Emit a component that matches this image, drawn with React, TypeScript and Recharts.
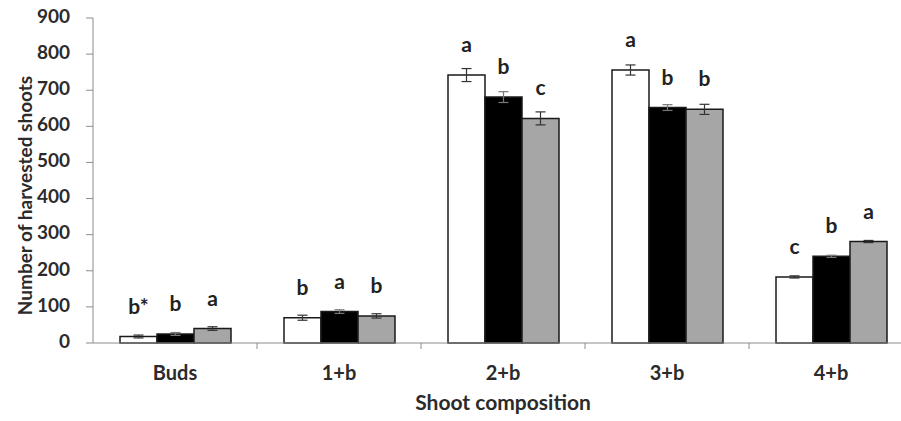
import React from 'react';
import { BarChart, Bar, XAxis, YAxis, ErrorBar, LabelList } from 'recharts';

const categories = ['Buds', '1+b', '2+b', '3+b', '4+b'];

// three treatments: white, black, grey bars
const whiteValues = [18, 70, 742, 756, 183];
const blackValues = [25, 87, 681, 652, 240];
const grayValues = [40, 75, 622, 647, 281];

const whiteErrors = [4, 7, 18, 14, 3];
const blackErrors = [4, 5, 15, 8, 3];
const grayErrors = [5, 6, 18, 14, 3];

const whiteLetters = ['b*', 'b', 'a', 'a', 'c'];
const blackLetters = ['b', 'a', 'b', 'b', 'b'];
const grayLetters = ['a', 'b', 'c', 'b', 'a'];

const yTicks = [0, 100, 200, 300, 400, 500, 600, 700, 800, 900];

const FONT = 'Lato, "Liberation Sans", sans-serif';
const AXIS_GREY = '#8c8c8c';

const data = categories.map((name, i) => ({
  name,
  white: whiteValues[i],
  black: blackValues[i],
  gray: grayValues[i],
  whiteErr: whiteErrors[i],
  blackErr: blackErrors[i],
  grayErr: grayErrors[i],
  whiteSig: whiteLetters[i],
  blackSig: blackLetters[i],
  graySig: grayLetters[i],
}));

const CategoryTick = (props: any) => {
  const { x, y, payload } = props;
  const half = payload.offset ?? 0;
  return (
    <g>
      <line x1={x + half} y1={y} x2={x + half} y2={y + 6} stroke={AXIS_GREY} strokeWidth={1} />
      <text x={x} y={y + 37} textAnchor="middle" fontFamily={FONT} fontWeight={700} fontSize={20} fill="#2b2b2b">
        {payload.value}
      </text>
    </g>
  );
};

const XTitle = (props: any) => {
  const { viewBox } = props;
  if (!viewBox) return null;
  return (
    <text
      x={viewBox.x + viewBox.width / 2}
      y={viewBox.y + 67}
      textAnchor="middle"
      fontFamily={FONT}
      fontWeight={700}
      fontSize={21}
      fill="#2b2b2b"
    >
      Shoot composition
    </text>
  );
};

const YTitle = (props: any) => {
  const { viewBox } = props;
  if (!viewBox) return null;
  const cx = 32;
  const cy = viewBox.y + viewBox.height / 2 + 15;
  return (
    <text
      x={cx}
      y={cy}
      transform={`rotate(-90, ${cx}, ${cy})`}
      textAnchor="middle"
      fontFamily={FONT}
      fontWeight={700}
      fontSize={19}
      fill="#2b2b2b"
    >
      Number of harvested shoots
    </text>
  );
};

const renderSig = (props: any) => {
  const { x, y, width, value } = props;
  return (
    <text
      x={x + width / 2}
      y={y - 23}
      textAnchor="middle"
      fontFamily={FONT}
      fontWeight={700}
      fontSize={21}
      fill="#222"
    >
      {value}
    </text>
  );
};

const App: React.FC = () => {
  return (
    <div style={{ position: 'absolute', left: 0, top: 0, width: 901, height: 421, overflow: 'hidden', background: '#fff' }}>
      <BarChart
        width={913}
        height={421}
        data={data}
        margin={{ top: 18, right: 0, bottom: 0, left: 0 }}
        barCategoryGap={27}
        barGap={0}
      >
        <YAxis
          width={93}
          domain={[0, 900]}
          ticks={yTicks}
          interval={0}
          tickSize={7}
          tickMargin={16}
          stroke={AXIS_GREY}
          tick={{ fontFamily: FONT, fontWeight: 700, fontSize: 19, fill: '#2b2b2b', dy: -2 }}
          label={<YTitle />}
        />
        <XAxis
          dataKey="name"
          height={78}
          tickSize={0}
          tickMargin={0}
          interval={0}
          stroke={AXIS_GREY}
          tick={<CategoryTick />}
          label={<XTitle />}
        />
        <Bar dataKey="white" fill="#ffffff" stroke="#1a1a1a" strokeWidth={1.5} isAnimationActive={false}>
          <ErrorBar dataKey="whiteErr" width={5} stroke="#333" strokeWidth={1.2} />
          <LabelList dataKey="whiteSig" content={renderSig} />
        </Bar>
        <Bar dataKey="black" fill="#000000" stroke="#1a1a1a" strokeWidth={1.5} isAnimationActive={false}>
          <ErrorBar dataKey="blackErr" width={5} stroke="#777" strokeWidth={1.2} />
          <LabelList dataKey="blackSig" content={renderSig} />
        </Bar>
        <Bar dataKey="gray" fill="#a6a6a6" stroke="#1a1a1a" strokeWidth={1.5} isAnimationActive={false}>
          <ErrorBar dataKey="grayErr" width={5} stroke="#333" strokeWidth={1.2} />
          <LabelList dataKey="graySig" content={renderSig} />
        </Bar>
      </BarChart>
    </div>
  );
};

export default App;
